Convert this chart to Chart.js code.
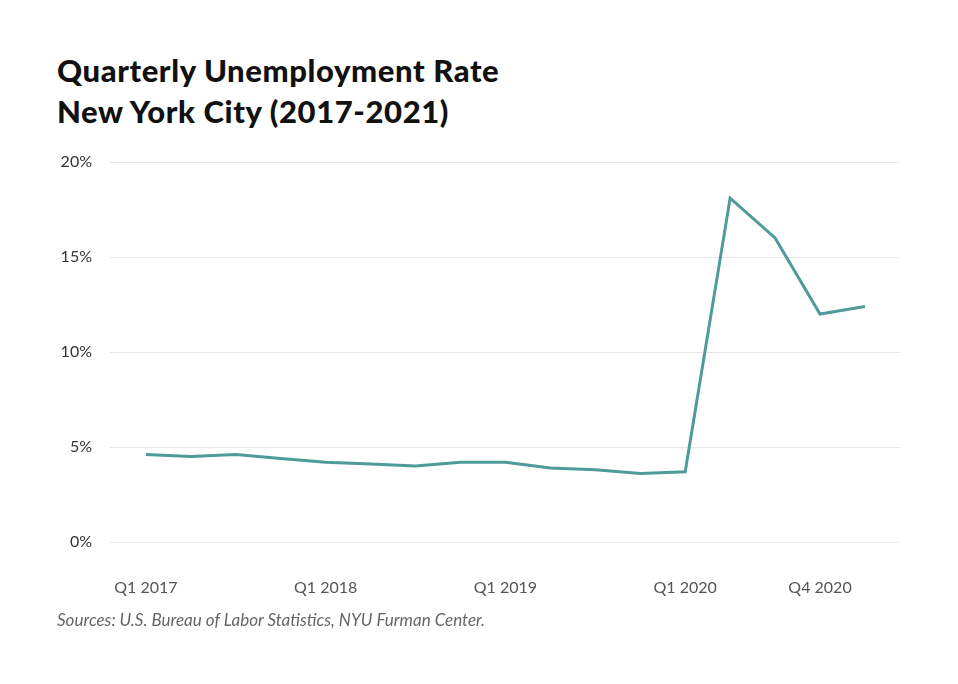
<!DOCTYPE html>
<html>
<head>
<meta charset="utf-8">
<script src="https://cdn.jsdelivr.net/npm/chart.js@4"></script>
<style>
  html, body { margin: 0; padding: 0; background: #fff; }
  #wrap { position: relative; width: 958px; height: 684px; }
  #title {
    position: absolute; left: 57px; top: 50px; margin: 0;
    font-family: Lato, sans-serif; font-weight: 900; font-size: 31px;
    line-height: 41px; letter-spacing: 0.6px; color: #111;
  }
  #source {
    position: absolute; left: 57px; top: 609px;
    font-family: Lato, sans-serif; font-style: italic; font-size: 17px; color: #666;
  }
  canvas { position: absolute; left: 0; top: 0; }
</style>
</head>
<body>
<div id="wrap">
  <h1 id="title">Quarterly Unemployment Rate<br>New York City (2017-2021)</h1>
  <canvas id="chart" width="958" height="684"></canvas>
  <div id="source">Sources: U.S. Bureau of Labor Statistics, NYU Furman Center.</div>
</div>
<script>
// kwartalen en werkloosheid (%)
const quarters = [
  'Q1 2017', 'Q2 2017', 'Q3 2017', 'Q4 2017',
  'Q1 2018', 'Q2 2018', 'Q3 2018', 'Q4 2018',
  'Q1 2019', 'Q2 2019', 'Q3 2019', 'Q4 2019',
  'Q1 2020', 'Q2 2020', 'Q3 2020', 'Q4 2020',
  'Q1 2021'
];
const unemploymentRate = [4.6, 4.5, 4.6, 4.4, 4.2, 4.1, 4.0, 4.2, 4.2, 3.9, 3.8, 3.6, 3.7, 18.1, 16.0, 12.0, 12.4];
const shownQuarters = ['Q1 2017', 'Q1 2018', 'Q1 2019', 'Q1 2020', 'Q4 2020'];
const yTicks = [0, 5, 10, 15, 20];

const ctx = document.getElementById('chart').getContext('2d');
new Chart(ctx, {
  type: 'line',
  data: {
    datasets: [{
      data: unemploymentRate.map((v, i) => ({ x: i, y: v })),
      borderColor: '#4f9a9b',
      borderWidth: 3,
      pointRadius: 0,
      tension: 0,
      fill: false
    }]
  },
  options: {
    responsive: false,
    animation: false,
    layout: { padding: { top: 162, right: 58, left: 0, bottom: 0 } },
    plugins: { legend: { display: false }, tooltip: { enabled: false } },
    scales: {
      x: {
        type: 'linear',
        min: -0.8,
        max: 16.78,
        grid: { display: false },
        border: { display: false },
        afterFit: (scale) => { scale.height = 142; },
        afterBuildTicks: (scale) => {
          scale.ticks = shownQuarters.map(q => ({ value: quarters.indexOf(q) }));
        },
        ticks: {
          padding: 28,
          maxRotation: 0,
          autoSkip: false,
          color: '#555',
          font: { family: 'Lato', size: 16 },
          callback: (v) => quarters[v]
        }
      },
      y: {
        min: 0,
        max: 20,
        afterFit: (scale) => { scale.width = 110; },
        afterBuildTicks: (scale) => {
          scale.ticks = yTicks.map(v => ({ value: v }));
        },
        grid: { color: '#e6e6e6', drawTicks: false, lineWidth: 1 },
        border: { display: false },
        ticks: {
          padding: 18,
          color: '#333',
          font: { family: 'Lato', size: 16 },
          callback: (v) => v + '%'
        }
      }
    }
  }
});
</script>
</body>
</html>
